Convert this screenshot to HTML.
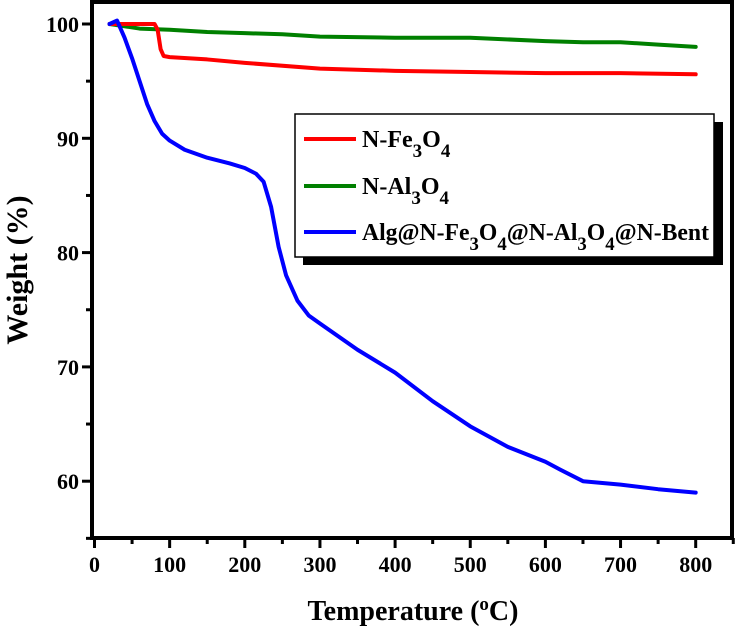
<!DOCTYPE html>
<html><head><meta charset="utf-8"><style>
body{margin:0;background:#fff;}
svg{display:block;font-family:"Liberation Serif",serif;font-weight:bold;}
</style></head><body>
<svg id="chart" width="736" height="635"></svg>
<script>
const xTicks=[0,100,200,300,400,500,600,700,800];
const yTicks=[60,70,80,90,100];
const redT=[20,80,84,88,92,100,150,200,300,400,500,600,700,800];
const redW=[100,100,99.5,97.8,97.2,97.1,96.9,96.6,96.1,95.9,95.8,95.7,95.7,95.6];
const greenT=[20,40,60,100,150,200,250,300,400,500,600,650,700,750,800];
const greenW=[100,99.8,99.6,99.5,99.3,99.2,99.1,98.9,98.8,98.8,98.5,98.4,98.4,98.2,98.0];
const blueT=[20,30,40,50,60,70,80,90,100,120,150,180,200,215,225,235,245,255,270,285,300,350,400,450,500,550,600,620,650,700,750,800];
const blueW=[100,100.3,98.8,97,95,93,91.5,90.4,89.8,89,88.3,87.8,87.4,86.9,86.2,84,80.5,78,75.8,74.5,73.8,71.5,69.5,67,64.8,63,61.7,61,60,59.7,59.3,59];
const NS="http://www.w3.org/2000/svg";
const svg=document.getElementById('chart');
const X=v=>94.5+(v/100)*75.15;
const Y=v=>24+(100-v)*11.43;
function mk(t,a,p){const e=document.createElementNS(NS,t);for(const k in a)e.setAttribute(k,a[k]);(p||svg).appendChild(e);return e;}
const frame=mk('rect',{x:92,y:2,width:640,height:536,fill:'none',stroke:'#000','stroke-width':4});


xTicks.forEach(v=>{
 const l=mk('line',{x1:X(v),x2:X(v),y1:538,y2:548,stroke:'#000','stroke-width':3});
 
 
 const m=mk('line',{x1:X(v+50),x2:X(v+50),y1:538,y2:544,stroke:'#000','stroke-width':3});
 
 
 const t=mk('text',{x:X(v),y:572,'text-anchor':'middle','font-size':22});
 t.textContent=v;
 
 
});
yTicks.forEach(v=>{
 const l=mk('line',{x1:82,x2:92,y1:Y(v),y2:Y(v),stroke:'#000','stroke-width':3});
 
 
 const m=mk('line',{x1:86,x2:92,y1:Y(v-5),y2:Y(v-5),stroke:'#000','stroke-width':3});
 
 
 const t=mk('text',{x:79,y:Y(v)+8,'text-anchor':'end','font-size':22});
 t.textContent=v;
 
 
});
function series(T,W,c,name){
 const p=mk('polyline',{points:T.map((t,i)=>X(t)+','+Y(W[i])).join(' '),fill:'none',stroke:c,'stroke-width':4,'stroke-linejoin':'round','stroke-linecap':'round'});
 
 
}
series(greenT,greenW,'#008000','series-n-al3o4');
series(redT,redW,'#ff0000','series-n-fe3o4');
series(blueT,blueW,'#0000ff','series-alg-composite');
</script>
<svg width="736" height="635" style="position:absolute;left:0;top:0;font-family:'Liberation Serif',serif;font-weight:bold">
<g>
<rect x="303" y="122" width="420" height="143" fill="#000"/>
<rect x="295" y="114" width="419" height="143" fill="#fff" stroke="#000" stroke-width="1.5"/>
<line x1="304" x2="356" y1="139" y2="139" stroke="#ff0000" stroke-width="4"/>
<text x="362" y="147" font-size="24">N-Fe<tspan dy="10" font-size="19">3</tspan><tspan dy="-10">O</tspan><tspan dy="10" font-size="19">4</tspan></text>
<line x1="304" x2="356" y1="186" y2="186" stroke="#008000" stroke-width="4"/>
<text x="362" y="194" font-size="24">N-Al<tspan dy="10" font-size="19">3</tspan><tspan dy="-10">O</tspan><tspan dy="10" font-size="19">4</tspan></text>
<line x1="304" x2="356" y1="232" y2="232" stroke="#0000ff" stroke-width="4"/>
<text x="362" y="240" font-size="24" textLength="347" lengthAdjust="spacingAndGlyphs">Alg@N-Fe<tspan dy="10" font-size="19">3</tspan><tspan dy="-10">O</tspan><tspan dy="10" font-size="19">4</tspan><tspan dy="-10">@N-Al</tspan><tspan dy="10" font-size="19">3</tspan><tspan dy="-10">O</tspan><tspan dy="10" font-size="19">4</tspan><tspan dy="-10">@N-Bent</tspan></text>
</g>
<text x="413" y="620" text-anchor="middle" font-size="28">Temperature (<tspan dy="-10" font-size="19">o</tspan><tspan dy="10">C)</tspan></text>
<text transform="translate(27,270) rotate(-90)" text-anchor="middle" font-size="30">Weight (%)</text>
</svg>
</body></html>
